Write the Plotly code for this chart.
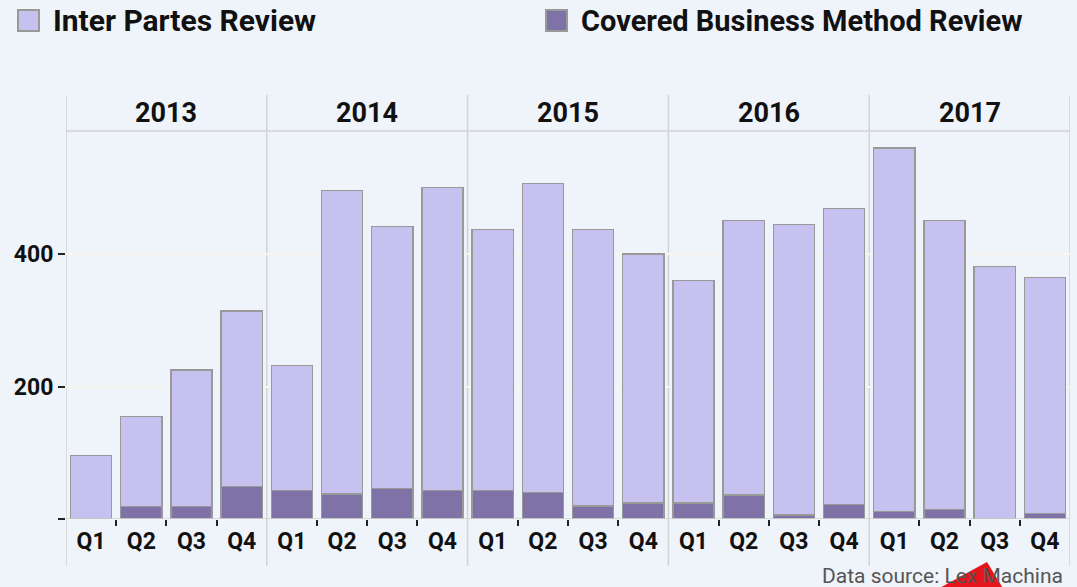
import plotly.graph_objects as go

years = ["2013", "2014", "2015", "2016", "2017"]
quarters = ["Q1", "Q2", "Q3", "Q4"]
# total bar heights (IPR + CBM)
totals = [96, 155, 225, 314,
          232, 496, 442, 501,
          437, 507, 437, 400,
          360, 451, 445, 469,
          560, 451, 381, 365]
cbm = [0, 19, 19, 49,
       43, 38, 46, 43,
       43, 40, 20, 24,
       24, 36, 6, 22,
       11, 14, 0, 8]
ipr = [t - c for t, c in zip(totals, cbm)]
y_ticks = [0, 200, 400]
y_tick_labels = ["", "200", "400"]

W, H = 1077, 587
L, R, T, B = 66, 7, 131, 68
pw, ph = W - L - R, H - T - B

def px(xp):
    return (xp - L) / pw

def py(yp):
    return (H - B - yp) / ph

x_idx = list(range(len(years) * len(quarters)))
x_text = [q for _ in years for q in quarters]

BG = "#EFF3FA"
IPR_C = "#C7C1EF"
CBM_C = "#7F72A7"
EDGE = "#999999"
FONT = "Roboto"

fig = go.Figure()
fig.add_trace(go.Bar(x=x_idx, y=cbm, name="Covered Business Method Review",
                     marker=dict(color=CBM_C, line=dict(color=EDGE, width=1.5)),
                     width=0.82, showlegend=False))
fig.add_trace(go.Bar(x=x_idx, y=ipr, name="Inter Partes Review",
                     marker=dict(color=IPR_C, line=dict(color=EDGE, width=1.5)),
                     width=0.82, showlegend=False))

shapes = []
# year separators
for i in range(len(years) + 1):
    xv = i * 4 - 0.5
    shapes.append(dict(type="line", xref="x", yref="paper", x0=xv, x1=xv,
                       y0=py(566), y1=py(95), line=dict(color="#D3D3D3", width=1.5),
                       layer="below"))
# header line
shapes.append(dict(type="line", xref="paper", yref="paper", x0=0, x1=1, y0=1, y1=1,
                   line=dict(color="#D3D3D3", width=1.5)))
# zero line
shapes.append(dict(type="line", xref="paper", yref="y", x0=0, x1=1, y0=0, y1=0,
                   line=dict(color="#D3D3D3", width=1.5)))
# legend swatches
shapes.append(dict(type="rect", xref="paper", yref="paper", x0=px(18), x1=px(39),
                   y0=py(31), y1=py(10), fillcolor=IPR_C, line=dict(color=EDGE, width=2)))
shapes.append(dict(type="rect", xref="paper", yref="paper", x0=px(546), x1=px(567),
                   y0=py(31), y1=py(10), fillcolor=CBM_C, line=dict(color=EDGE, width=2)))

annotations = []
for i, yr in enumerate(years):
    annotations.append(dict(x=i * 4 + 1.5, xref="x", y=py(113), yref="paper",
                            text=yr, showarrow=False, xanchor="center", yanchor="middle",
                            font=dict(family=FONT, size=27, color="#111111", weight="bold")))
annotations.append(dict(x=px(51), y=py(21), xref="paper", yref="paper",
                        text="Inter Partes Review", showarrow=False, xanchor="left",
                        yanchor="middle",
                        font=dict(family=FONT, size=30, color="#111111", weight="bold")))
annotations.append(dict(x=px(579), y=py(21), xref="paper", yref="paper",
                        text="Covered Business Method Review", showarrow=False,
                        xanchor="left", yanchor="middle",
                        font=dict(family=FONT, size=29, color="#111111", weight="bold")))
annotations.append(dict(x=px(1065), y=py(576), xref="paper", yref="paper",
                        text="Data source: Lex Machina", showarrow=False,
                        xanchor="right", yanchor="middle",
                        font=dict(family=FONT, size=21, color="#555555")))

# red arrow mark
shapes.append(dict(type="path", xref="paper", yref="paper",
                   path="M {} {} L {} {} L {} {} Z".format(px(987), py(562), px(936), py(590),
                                                           px(1004), py(590)),
                   fillcolor="#E8141B", line=dict(color="#E8141B", width=0), layer="above"))

minor_vals = [i + 0.5 for i in x_idx[:-1] if (i + 1) % 4 != 0]

fig.update_layout(
    width=W, height=H,
    margin=dict(l=L, r=R, t=T, b=B),
    paper_bgcolor=BG, plot_bgcolor=BG,
    barmode="stack",
    showlegend=False,
    shapes=shapes,
    annotations=annotations,
    xaxis=dict(range=[-0.5, 19.5], tickmode="array", tickvals=x_idx, ticktext=x_text,
               showgrid=False, zeroline=False, showline=False, ticks="",
               ticklabelstandoff=6,
               tickfont=dict(family=FONT, size=23, color="#111111", weight="bold"),
               minor=dict(tickmode="array", tickvals=minor_vals, ticks="outside",
                          ticklen=6, tickwidth=1.5, tickcolor="#222222", showgrid=False),
               fixedrange=True),
    yaxis=dict(range=[0, 586], tickmode="array", tickvals=y_ticks, ticktext=y_tick_labels,
               showgrid=True, gridcolor="#F7F5EE", gridwidth=1.5, zeroline=False,
               showline=False, ticks="outside", ticklen=7, tickwidth=1.5,
               tickcolor="#222222",
               tickfont=dict(family=FONT, size=23, color="#111111", weight="bold"),
               fixedrange=True),
)

fig.write_html("out.html", config={"displayModeBar": False})

# remove the browser's default page margin so the figure fills the window exactly
with open("out.html", "r", encoding="utf-8") as f:
    html = f.read()
html = html.replace("<head>", "<head><style>html,body{margin:0;padding:0;background:%s;}</style>" % BG, 1)
with open("out.html", "w", encoding="utf-8") as f:
    f.write(html)
